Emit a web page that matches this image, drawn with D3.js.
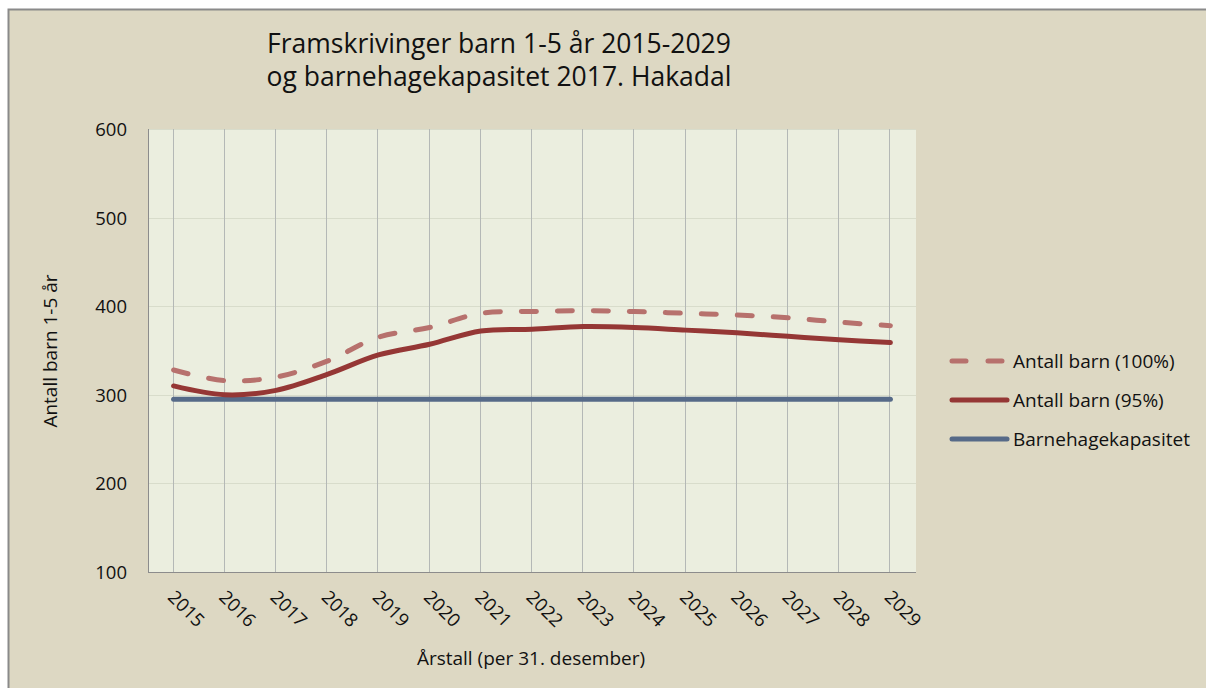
<!DOCTYPE html>
<html><head><meta charset="utf-8">
<script src="https://cdn.jsdelivr.net/npm/d3@7"></script>
<style>
html,body{margin:0;padding:0;background:#fff;}
svg{display:block;}
text{font-family:"Open Sans","Noto Sans",sans-serif;fill:#111;}
</style></head>
<body>
<svg id="chart" width="1206" height="688"></svg>
<script>
const years = [2015,2016,2017,2018,2019,2020,2021,2022,2023,2024,2025,2026,2027,2028,2029];
const barn100 = [328,316,320,338,365,376,392,394,395,394,392,390,387,382,378];
const barn95  = [310,300,305,323,345,357,372,374,377,376,373,370,366,362,359];
const kapasitet = [295,295,295,295,295,295,295,295,295,295,295,295,295,295,295];
const yTicks = [100,200,300,400,500,600];
const titleLines = ["Framskrivinger barn 1-5 år 2015-2029","og barnehagekapasitet 2017. Hakadal"];
const legendLabels = ["Antall barn (100%)","Antall barn (95%)","Barnehagekapasitet"];

const svg = d3.select("#chart");
svg.append("rect").attr("x",8.5).attr("y",9.5).attr("width",1220).attr("height",700)
  .attr("fill","#DDD8C3").attr("stroke","#8a8a8a").attr("stroke-width",2);

const L=148, R=916, T=129, B=572;
svg.append("rect").attr("x",L).attr("y",T).attr("width",R-L).attr("height",B-T).attr("fill","#EBEEDF");

const x = d3.scalePoint().domain(years).range([L,R]).padding(0.5);
const y = d3.scaleLinear().domain([100,600]).range([B,T]);

svg.append("g").selectAll("line").data(yTicks.filter(d=>d>100)).join("line")
  .attr("x1",L).attr("x2",R).attr("y1",d=>Math.round(y(d))+0.5).attr("y2",d=>Math.round(y(d))+0.5)
  .attr("stroke","#D8DCCB").attr("stroke-width",1);
svg.append("g").selectAll("line").data(years).join("line")
  .attr("x1",d=>Math.round(x(d))-0.5).attr("x2",d=>Math.round(x(d))-0.5).attr("y1",T).attr("y2",B)
  .attr("stroke","#B4B8B6").attr("stroke-width",1);

svg.append("line").attr("x1",L+0.5).attr("x2",L+0.5).attr("y1",T).attr("y2",B).attr("stroke","#8C8C8C");
svg.append("line").attr("x1",L).attr("x2",R).attr("y1",B+0.5).attr("y2",B+0.5).attr("stroke","#8C8C8C");

const yAxis = d3.axisLeft(y).tickValues(yTicks).tickSize(0).tickPadding(0);
const gy = svg.append("g").attr("transform",`translate(${L-21},0)`).call(yAxis);
gy.select(".domain").remove();
gy.selectAll("text").attr("font-size",18.5).attr("font-family","Open Sans").attr("fill","#111").attr("dy","0.35em");

const xAxis = d3.axisBottom(x).tickSize(0).tickPadding(0);
const gx = svg.append("g").attr("transform",`translate(0,${B})`).call(xAxis);
gx.select(".domain").remove();
gx.selectAll("text").attr("font-size",18.5).attr("font-family","Open Sans").attr("fill","#111")
  .attr("text-anchor","start").attr("dy",null).attr("y",0)
  .attr("transform","translate(4,15) rotate(45)")
  .attr("dominant-baseline","hanging");

const line = d3.line().x((d,i)=>x(years[i])).y(d=>y(d)).curve(d3.curveCatmullRom.alpha(0.5));
const straight = d3.line().x((d,i)=>x(years[i])).y(d=>y(d));
svg.append("path").attr("d",straight(kapasitet)).attr("fill","none").attr("stroke","#566A88").attr("stroke-width",5).attr("stroke-linecap","round");
svg.append("path").attr("d",line(barn100)).attr("fill","none").attr("stroke","#B7716D").attr("stroke-width",5)
  .attr("stroke-dasharray","15 21").attr("stroke-linecap","round");
svg.append("path").attr("d",line(barn95)).attr("fill","none").attr("stroke","#953735").attr("stroke-width",5).attr("stroke-linecap","round");

svg.append("g").selectAll("text").data(titleLines).join("text")
  .attr("x",499).attr("y",(d,i)=>53+i*33).attr("text-anchor","middle").attr("font-size",26.5)
  .text(d=>d);

svg.append("text").attr("transform","translate(57,351) rotate(-90)").attr("text-anchor","middle")
  .attr("font-size",19).text("Antall barn 1-5 år");
svg.append("text").attr("x",531).attr("y",665).attr("text-anchor","middle").attr("font-size",19)
  .text("Årstall (per 31. desember)");

const legStyles = [
  {stroke:"#B7716D",dash:"14 22"},
  {stroke:"#953735",dash:null},
  {stroke:"#566A88",dash:null}
];
const lg = svg.append("g").selectAll("g").data(legendLabels).join("g")
  .attr("transform",(d,i)=>`translate(0,${361+i*39})`);
lg.append("line").attr("x1",952).attr("x2",1007).attr("y1",0).attr("y2",0)
  .attr("stroke",(d,i)=>legStyles[i].stroke).attr("stroke-width",5).attr("stroke-linecap","round")
  .attr("stroke-dasharray",(d,i)=>legStyles[i].dash);
lg.append("text").attr("x",1013).attr("y",0).attr("dy","0.35em").attr("font-size",19).text(d=>d);
</script>
</body></html>
